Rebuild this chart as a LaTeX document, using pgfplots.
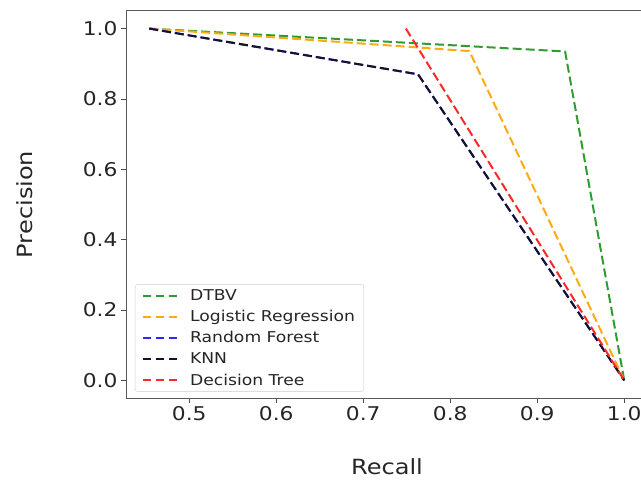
\documentclass[border=0pt]{standalone}
\usepackage{fontspec}
\setmainfont[FakeStretch=1.15]{DejaVu Sans}
\usepackage{pgfplots}
\pgfplotsset{compat=1.18}
\definecolor{cgreen}{RGB}{46,156,46}
\definecolor{corange}{RGB}{255,170,20}
\definecolor{cblue}{RGB}{40,40,255}
\definecolor{cblack}{RGB}{20,20,40}
\definecolor{cred}{RGB}{255,40,40}

\begin{document}
\begin{tikzpicture}
\begin{axis}[
  at={(126bp,82bp)}, anchor=south west,
  scale only axis, width=522bp, height=387bp,
  xmin=0.4273, xmax=1.0273,
  ymin=-0.05, ymax=1.05,
  xtick={0.5,0.6,0.7,0.8,0.9,1.0},
  ytick={0,0.2,0.4,0.6,0.8,1.0},
  tick pos=left, tick align=outside,
  major tick length=5bp,
  every tick/.style={black!70, line width=0.8bp},
  axis line style={black!65, line width=1bp},
  /pgf/number format/.cd, fixed, fixed zerofill, precision=1, assume math mode=true,
  /pgfplots/.cd,
  tick label style={font=\fontsize{19}{22}\selectfont, text=black!85},
  xlabel={Recall}, ylabel={Precision},
  label style={font=\fontsize{21}{24}\selectfont, text=black!85},
  xlabel style={at={(axis description cs:0.5,-0.178)}, anchor=center},
  ylabel style={at={(axis description cs:-0.1935,0.5)}, anchor=center},
  every axis plot/.append style={line width=2bp, dash pattern=on 9bp off 4bp, line join=round},
  legend image code/.code={\draw[#1, dash pattern=on 8bp off 5bp] (0bp,0bp) -- (34bp,0bp);
    \path (44bp,0bp);},
  legend cell align=left,
  legend style={at={(0.017,0.016)}, anchor=south west,
    font=\fontsize{15}{18}\selectfont, text=black!85,
    draw=black!20, rounded corners=3bp, fill=white, fill opacity=0.8, text opacity=1,
    row sep=4.5bp, inner xsep=7bp, inner ysep=3bp},
]
\addplot[cgreen] coordinates {(0.454,1.0) (0.932,0.935) (1.0,0.0)};
\addlegendentry{DTBV}
\addplot[corange] coordinates {(0.454,1.0) (0.822,0.936) (1.0,0.0)};
\addlegendentry{Logistic Regression}
\addplot[cblue] coordinates {(0.454,1.0) (0.763,0.870) (1.0,0.0)};
\addlegendentry{Random Forest}
\addplot[cblack] coordinates {(0.454,1.0) (0.763,0.870) (1.0,0.0)};
\addlegendentry{KNN}
\addplot[cred] coordinates {(0.749,1.0) (1.0,0.0)};
\addlegendentry{Decision Tree}
\end{axis}
\pgfresetboundingbox
\useasboundingbox (0,0) rectangle (641bp,480bp);
\end{tikzpicture}
\end{document}
